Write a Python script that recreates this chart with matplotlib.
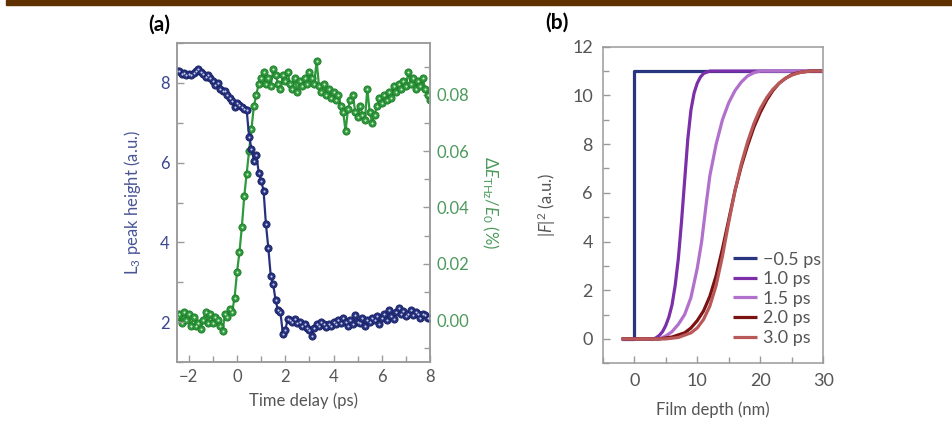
import numpy as np
import matplotlib
matplotlib.use('Agg')
import matplotlib.pyplot as plt
from matplotlib.ticker import MultipleLocator

plt.rcParams['font.family'] = ['Lato', 'DejaVu Sans']
plt.rcParams['mathtext.fontset'] = 'custom'
plt.rcParams['mathtext.rm'] = 'Lato'
plt.rcParams['mathtext.it'] = 'Lato:italic'
plt.rcParams['mathtext.bf'] = 'Lato:bold'

# ---- panel (a) data: time delay grid (ps) ----
delay = np.round(np.arange(-2.5, 8.001, 0.1), 2)

# L3 peak height (a.u.)
peak = [8.28, 8.30, 8.22, 8.24, 8.20, 8.22, 8.18, 8.25, 8.30, 8.33,
        8.26, 8.22, 8.15, 8.20, 8.12, 8.05, 7.95, 7.98, 7.85, 7.80,
        7.78, 7.70, 7.62, 7.55, 7.38, 7.48, 7.45, 7.40, 7.35, 7.32,
        6.65, 6.35, 6.05, 6.20, 5.75, 5.55, 5.30, 4.45, 3.85, 3.15,
        2.95, 2.55, 2.30, 2.25, 1.72, 1.80, 2.08, 2.05, 2.00, 2.08,
        1.98, 2.02, 1.90, 1.95, 1.85, 1.80, 1.65, 1.85, 1.95, 1.90,
        2.00, 1.95, 1.88, 1.95, 1.92, 2.00, 1.95, 2.05, 1.98, 2.10,
        2.00, 1.92, 2.05, 1.95, 2.18, 2.02, 1.98, 2.10, 1.90, 2.05,
        2.00, 2.12, 2.05, 2.15, 1.95, 2.10, 2.20, 2.05, 2.30, 2.15,
        2.08, 2.25, 2.35, 2.20, 2.28, 2.15, 2.22, 2.30, 2.18, 2.25,
        2.20, 2.12, 2.22, 2.18, 2.10, 2.12]

# THz field change dE/E0 (%)
thz = [0.001, 0.002, -0.001, 0.003, 0.000, 0.002, -0.002, 0.001, -0.002, -0.001,
       -0.003, 0.000, 0.003, -0.001, 0.002, -0.001, 0.001, 0.000, -0.002, -0.004,
       0.002, 0.001, 0.004, 0.003, 0.008, 0.017, 0.024, 0.033, 0.044, 0.052,
       0.060, 0.068, 0.076, 0.080, 0.084, 0.086, 0.088, 0.084, 0.086, 0.083,
       0.089, 0.087, 0.084, 0.082, 0.087, 0.085, 0.088, 0.084, 0.082, 0.086,
       0.081, 0.085, 0.083, 0.086, 0.084, 0.088, 0.086, 0.084, 0.092, 0.083,
       0.081, 0.084, 0.080, 0.082, 0.079, 0.081, 0.078, 0.080, 0.076, 0.074,
       0.067, 0.075, 0.078, 0.080, 0.074, 0.072, 0.076, 0.073, 0.071, 0.082,
       0.074, 0.070, 0.073, 0.076, 0.079, 0.077, 0.080, 0.078, 0.081, 0.079,
       0.083, 0.081, 0.084, 0.082, 0.085, 0.083, 0.088, 0.084, 0.086, 0.082,
       0.085, 0.083, 0.086, 0.082, 0.080, 0.078]

# ---- panel (b) data: |F|^2 vs film depth (nm) ----
labels_b = ['\u22120.5 ps', '1.0 ps', '1.5 ps', '2.0 ps', '3.0 ps']
depth_m05 = [-2, 0, 0, 30]
f2_m05 = [0, 0, 11, 11]
depth_10 = [-2, 3, 3.5, 4, 4.5, 5, 5.5, 6, 6.5, 7, 7.5, 8, 8.5, 9, 9.5, 10, 10.5, 11, 12, 30]
f2_10 = [0, 0, 0.05, 0.15, 0.3, 0.55, 0.9, 1.4, 2.2, 3.3, 4.8, 6.5, 8.2, 9.4, 10.1, 10.5, 10.75, 10.9, 11, 11]
depth_15 = [-2, 4, 5, 6, 7, 8, 9, 10, 10.7, 11.4, 12, 13, 14, 15, 16, 17, 18, 19, 20, 30]
f2_15 = [0, 0, 0.12, 0.3, 0.6, 1.0, 1.7, 2.9, 4.0, 5.5, 6.7, 8.0, 9.0, 9.7, 10.2, 10.55, 10.8, 10.93, 11, 11]
depth_20 = [-2, 4, 6, 8, 9, 10, 11, 12, 13, 14, 15, 16, 17, 18, 19, 20, 21, 22, 23, 24, 25, 26, 27, 28, 30]
f2_20 = [0, 0, 0.08, 0.25, 0.45, 0.75, 1.15, 1.75, 2.6, 3.7, 4.9, 6.1, 7.1, 7.95, 8.7, 9.3, 9.8, 10.2, 10.5, 10.7, 10.85, 10.93, 10.97, 11, 11]
depth_30 = [-2, 5, 7, 9, 10, 11, 12, 13, 14, 15, 16, 17, 18, 19, 20, 21, 22, 23, 24, 25, 26, 27, 28, 30]
f2_30 = [0, 0, 0.06, 0.25, 0.45, 0.8, 1.35, 2.2, 3.4, 4.8, 6.1, 7.2, 8.1, 8.85, 9.45, 9.9, 10.25, 10.5, 10.7, 10.83, 10.92, 10.97, 11, 11]

blue = '#27327f'
green = '#2f9a3c'
grey = '#555555'
spine_c = '#9a9a9a'

fig = plt.figure(figsize=(9.52, 4.24), dpi=100)

# brown bar across the top
fig.patches.append(plt.Rectangle((6 / 952, 1 - 5 / 424), 1, 5 / 424,
                                 transform=fig.transFigure, color='#5f3100', zorder=5))


def style_axes(ax, size=12):
    for s in ax.spines.values():
        s.set_color(spine_c)
        s.set_linewidth(1.1)
    ax.tick_params(which='both', direction='in', color=spine_c, labelsize=size, pad=5)
    ax.tick_params(which='major', length=5, width=1)
    ax.tick_params(which='minor', length=4, width=1)


# ----- (a) -----
ax1 = fig.add_axes([0.1856, 0.1455, 0.2661, 0.7538])
ax2 = ax1.twinx()
ax1.set_zorder(ax2.get_zorder() + 1)
ax1.patch.set_visible(False)

ax2.plot(delay, thz, '-o', color=green, lw=1.6, ms=5.2, mec='#1f7a2a', mew=0.6)
ax2.plot(delay, thz, 'o', color='#d0f2d0', ms=1.5, mew=0)
ax1.plot(delay, peak, '-o', color=blue, lw=1.6, ms=5.2, mec='#1a2266', mew=0.6)
ax1.plot(delay, peak, 'o', color='#c8d0f4', ms=1.5, mew=0)

ax1.set_xlim(-2.5, 8)
ax1.set_ylim(1, 9)
ax2.set_ylim(-0.015, 0.0985)
ax1.xaxis.set_major_locator(MultipleLocator(2))
ax1.xaxis.set_minor_locator(MultipleLocator(1))
ax1.yaxis.set_major_locator(MultipleLocator(2))
ax1.yaxis.set_minor_locator(MultipleLocator(1))
ax2.yaxis.set_major_locator(MultipleLocator(0.02))
ax2.yaxis.set_minor_locator(MultipleLocator(0.01))
ax2.yaxis.set_major_formatter(lambda v, p: f'{v:.2f}')
style_axes(ax1)
style_axes(ax2)
ax1.tick_params(axis='y', labelcolor='#3b4690')
ax1.tick_params(axis='x', labelcolor=grey)
ax2.tick_params(axis='y', labelcolor='#4c9a5c')

ax1.set_xlabel('Time delay (ps)', fontsize=12, color=grey, labelpad=5)
ax1.set_ylabel('L$_3$ peak height (a.u.)', fontsize=12, color='#4a5596', labelpad=12)
ax2.set_ylabel('\u0394$\\mathit{E}_{\\mathrm{THz}}$/$\\mathit{E}_0$ (%)', fontsize=12,
               color='#4c9a5c', rotation=270, labelpad=22)

fig.text(148 / 952, 1 - 25 / 424, '(a)', fontsize=15, fontweight='bold', va='center')

# ----- (b) -----
axb = fig.add_axes([0.6331, 0.1432, 0.2317, 0.7467])
curves = [(depth_m05, f2_m05, '#2a3580'),
          (depth_10, f2_10, '#7b2fa8'),
          (depth_15, f2_15, '#b070cc'),
          (depth_20, f2_20, '#7a1212'),
          (depth_30, f2_30, '#b85858')]
for (xd, yd, c), lab in zip(curves, labels_b):
    axb.plot(xd, yd, color=c, lw=2.3, label=lab, solid_capstyle='butt')

axb.set_xlim(-5, 30)
axb.set_ylim(-1, 12)
axb.xaxis.set_major_locator(MultipleLocator(10))
axb.xaxis.set_minor_locator(MultipleLocator(5))
axb.yaxis.set_major_locator(MultipleLocator(2))
axb.yaxis.set_minor_locator(MultipleLocator(1))
style_axes(axb, 13)
axb.tick_params(labelcolor=grey, pad=7)
axb.set_xlabel('Film depth (nm)', fontsize=12, color=grey, labelpad=9)
axb.set_ylabel('|$\\mathit{F}$|$^2$ (a.u.)', fontsize=12, color=grey, labelpad=10)

leg = axb.legend(loc='lower left', bbox_to_anchor=(733 / 952, 1 - 346 / 424),
                 bbox_transform=fig.transFigure, frameon=False, fontsize=13,
                 handlelength=1.35, handletextpad=0.3, labelspacing=0.2,
                 borderpad=0, borderaxespad=0)
for t in leg.get_texts():
    t.set_color(grey)

fig.text(545 / 952, 1 - 23 / 424, '(b)', fontsize=15, fontweight='bold', va='center')

fig.savefig('out.png', dpi=100)
